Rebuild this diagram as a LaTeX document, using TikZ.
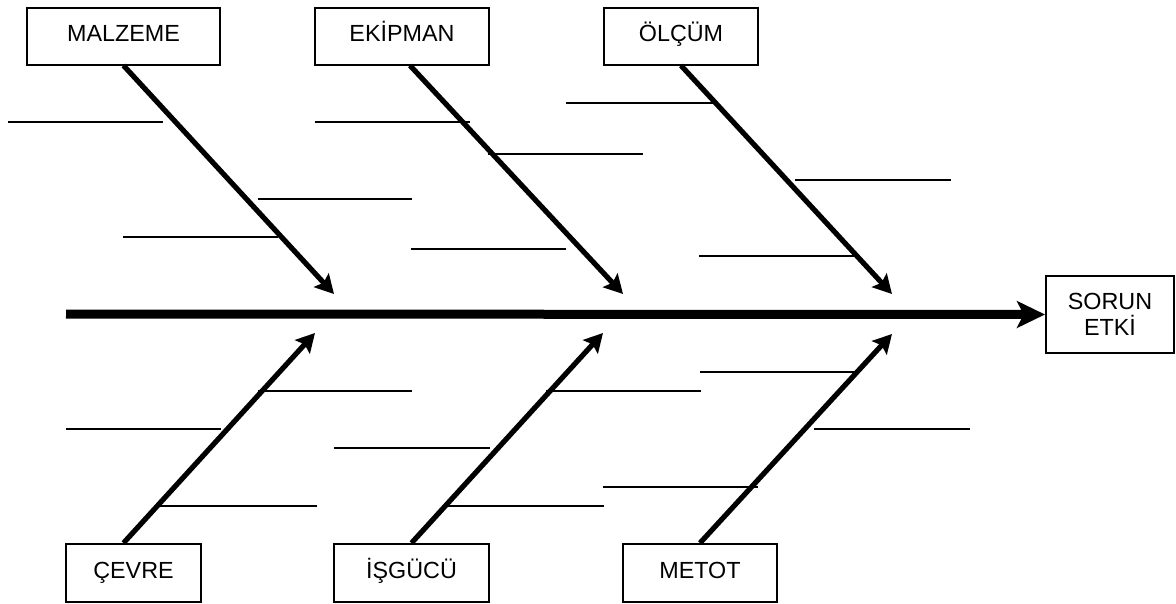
\documentclass[tikz,border=0pt]{standalone}
\usepackage{fontspec}
\setmainfont{Liberation Sans}
\usetikzlibrary{arrows.meta}
\begin{document}
\begin{tikzpicture}[x=0.75pt,y=-0.75pt,
  catbox/.style={draw,line width=1.5pt,fill=white,minimum height=42.75pt,inner sep=0pt,
    font=\fontsize{17.5}{20}\selectfont,align=center},
  onerow/.style={text height=12.5pt,text depth=4pt},
  bone/.style={line width=3.9pt,-{Stealth[length=14pt,width=15pt,inset=2.5pt]}},
  spine/.style={line width=6.75pt,-{Stealth[length=21pt,width=20pt,inset=5pt]}},
  twig/.style={line width=1.5pt}]
\useasboundingbox (0,0) rectangle (1176,603);
% boxes
\node[catbox,onerow,minimum width=144.75pt] (malz) at (123.5,36) {MALZEME};
\node[catbox,onerow,minimum width=130.5pt] (ekip) at (402,36) {EKİPMAN};
\node[catbox,onerow,minimum width=115.5pt] (olc) at (681,36) {ÖLÇÜM};
\node[catbox,minimum width=96pt,minimum height=57.75pt] (sorun) at (1110,314.5) {SORUN\\ETKİ};
\node[catbox,onerow,minimum width=101.25pt,minimum height=43.5pt] (cevre) at (133.5,573) {ÇEVRE};
\node[catbox,onerow,minimum width=116.25pt,minimum height=43.5pt] (isg) at (411.5,573) {İŞGÜCÜ};
\node[catbox,onerow,minimum width=115.5pt,minimum height=43.5pt] (met) at (700,573) {METOT};
% tips
\coordinate (s0) at (66,314);
\coordinate (t1) at (334,294);
\coordinate (t2) at (623,294);
\coordinate (t3) at (892,294);
\coordinate (b1) at (315,333);
\coordinate (b2) at (603,333);
\coordinate (b3) at (892,334);
% spine
\draw[spine] (s0) -- (sorun.west);
% twigs upper
\draw[twig] (8,122) -- (163,122);
\draw[twig] (258,199) -- (412,199);
\draw[twig] (123,237) -- (278,237);
\draw[twig] (315,122) -- (470,122);
\draw[twig] (488,154) -- (643,154);
\draw[twig] (411,249) -- (566,249);
\draw[twig] (566,103) -- (717,103);
\draw[twig] (795,180) -- (951,180);
\draw[twig] (699,256) -- (855,256);
% twigs lower
\draw[twig] (258,391) -- (412,391);
\draw[twig] (66,429) -- (221,429);
\draw[twig] (160,506) -- (317,506);
\draw[twig] (334,448) -- (490,448);
\draw[twig] (546,391) -- (701,391);
\draw[twig] (448,506) -- (604,506);
\draw[twig] (700,372) -- (855,372);
\draw[twig] (603,487) -- (758,487);
\draw[twig] (814,429) -- (970,429);
% bones
\draw[bone] (malz.south) -- (t1);
\draw[bone] ([xshift=6pt]ekip.south) -- (t2);
\draw[bone] (olc.south) -- (t3);
\draw[bone] ([xshift=-7.5pt]cevre.north) -- (b1);
\draw[bone] (isg.north) -- (b2);
\draw[bone] (met.north) -- (b3);
\end{tikzpicture}
\end{document}
